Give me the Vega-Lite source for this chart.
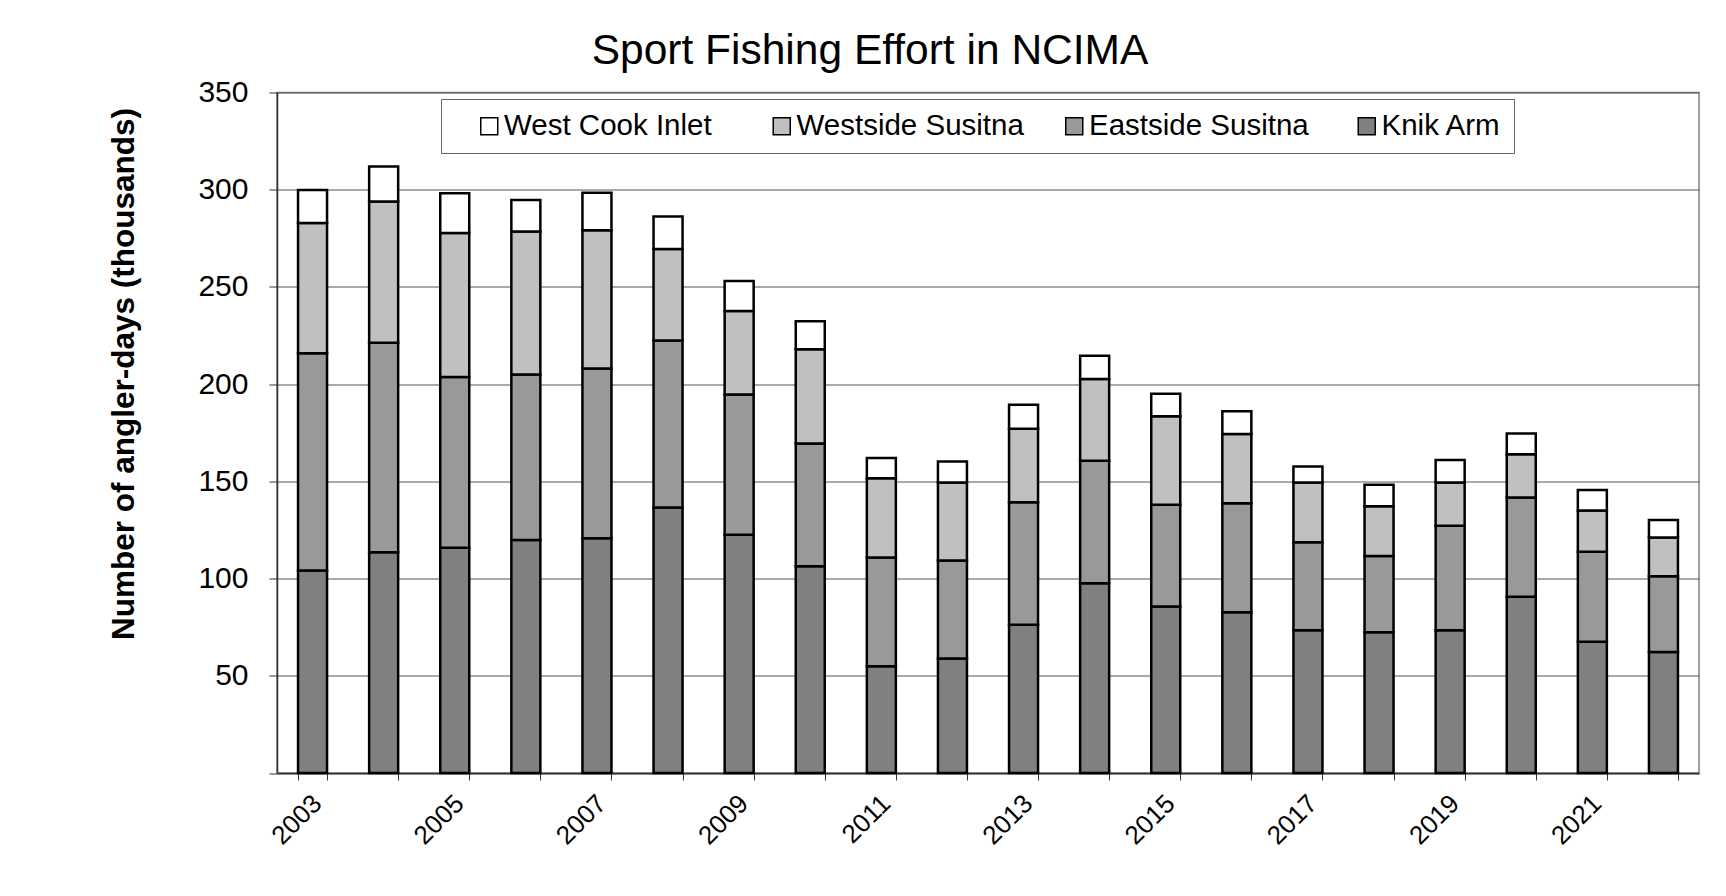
{
  "$schema": "https://vega.github.io/schema/vega-lite/v6.json",
  "autosize": "none",
  "width": 1422,
  "height": 680.5,
  "padding": {"left": 277, "top": 92.5, "right": 27, "bottom": 123},
  "background": "white",
  "config": {
    "font": "Liberation Sans",
    "view": {"stroke": "#808080", "strokeWidth": 1.5}
  },
  "title": {
    "text": "Sport Fishing Effort in NCIMA",
    "fontSize": 42.5,
    "fontWeight": "normal",
    "color": "black",
    "anchor": "middle",
    "dx": -118,
    "dy": 41,
    "offset": 12,
    "baseline": "alphabetic"
  },
  "data": {
    "values": [
      {"year": 2003, "Knik Arm": 104.1, "Eastside Susitna": 111.8, "Westside Susitna": 67.0, "West Cook Inlet": 16.9},
      {"year": 2004, "Knik Arm": 113.6, "Eastside Susitna": 107.7, "Westside Susitna": 72.6, "West Cook Inlet": 18.1},
      {"year": 2005, "Knik Arm": 115.9, "Eastside Susitna": 87.8, "Westside Susitna": 74.1, "West Cook Inlet": 20.4},
      {"year": 2006, "Knik Arm": 119.9, "Eastside Susitna": 85.0, "Westside Susitna": 73.6, "West Cook Inlet": 16.2},
      {"year": 2007, "Knik Arm": 120.7, "Eastside Susitna": 87.4, "Westside Susitna": 71.0, "West Cook Inlet": 19.3},
      {"year": 2008, "Knik Arm": 136.6, "Eastside Susitna": 85.8, "Westside Susitna": 47.1, "West Cook Inlet": 16.7},
      {"year": 2009, "Knik Arm": 122.6, "Eastside Susitna": 72.1, "Westside Susitna": 42.9, "West Cook Inlet": 15.4},
      {"year": 2010, "Knik Arm": 106.3, "Eastside Susitna": 63.2, "Westside Susitna": 48.4, "West Cook Inlet": 14.4},
      {"year": 2011, "Knik Arm": 54.9, "Eastside Susitna": 55.9, "Westside Susitna": 40.8, "West Cook Inlet": 10.4},
      {"year": 2012, "Knik Arm": 58.9, "Eastside Susitna": 50.4, "Westside Susitna": 40.1, "West Cook Inlet": 10.8},
      {"year": 2013, "Knik Arm": 76.2, "Eastside Susitna": 63.0, "Westside Susitna": 37.8, "West Cook Inlet": 12.4},
      {"year": 2014, "Knik Arm": 97.6, "Eastside Susitna": 63.0, "Westside Susitna": 42.0, "West Cook Inlet": 12.0},
      {"year": 2015, "Knik Arm": 85.6, "Eastside Susitna": 52.4, "Westside Susitna": 45.5, "West Cook Inlet": 11.6},
      {"year": 2016, "Knik Arm": 82.7, "Eastside Susitna": 56.1, "Westside Susitna": 35.6, "West Cook Inlet": 11.6},
      {"year": 2017, "Knik Arm": 73.4, "Eastside Susitna": 45.3, "Westside Susitna": 30.7, "West Cook Inlet": 8.3},
      {"year": 2018, "Knik Arm": 72.4, "Eastside Susitna": 39.2, "Westside Susitna": 25.6, "West Cook Inlet": 11.0},
      {"year": 2019, "Knik Arm": 73.4, "Eastside Susitna": 53.8, "Westside Susitna": 22.2, "West Cook Inlet": 11.6},
      {"year": 2020, "Knik Arm": 90.7, "Eastside Susitna": 51.0, "Westside Susitna": 22.3, "West Cook Inlet": 10.6},
      {"year": 2021, "Knik Arm": 67.5, "Eastside Susitna": 46.3, "Westside Susitna": 21.2, "West Cook Inlet": 10.5},
      {"year": 2022, "Knik Arm": 62.2, "Eastside Susitna": 39.0, "Westside Susitna": 19.9, "West Cook Inlet": 9.0}
    ]
  },
  "transform": [
    {"fold": ["Knik Arm", "Eastside Susitna", "Westside Susitna", "West Cook Inlet"], "as": ["region", "days"]},
    {"window": [{"op": "row_number", "as": "layer"}], "groupby": ["year"]}
  ],
  "mark": {"type": "bar", "stroke": "black", "strokeWidth": 2.5},
  "encoding": {
    "x": {
      "field": "year",
      "type": "ordinal",
      "scale": {"paddingInner": 0.592, "paddingOuter": 0.296},
      "axis": {
        "title": null,
        "tickBand": "extent",
        "labelAngle": -45,
        "labelAlign": "right",
        "labelBaseline": "middle",
        "labelFontSize": 26,
        "labelColor": "black",
        "labelExpr": "toNumber(datum.value) % 2 == 1 ? datum.label : ''",
        "labelOverlap": false,
        "labelOffset": 4.5,
        "labelPadding": 19,
        "tickSize": 7,
        "tickColor": "#333",
        "domainColor": "#333",
        "domainWidth": 1.5,
        "grid": false
      }
    },
    "y": {
      "field": "days",
      "type": "quantitative",
      "stack": "zero",
      "scale": {"domain": [0, 350], "nice": false},
      "axis": {
        "values": [0, 50, 100, 150, 200, 250, 300, 350],
        "title": "Number of angler-days (thousands)",
        "titleFontSize": 31.5,
        "titleFontWeight": "bold",
        "titleColor": "black",
        "titleAngle": -90,
        "titleAlign": "center",
        "titleBaseline": "bottom",
        "titleX": -137,
        "titleY": 281,
        "labelFontSize": 30,
        "labelColor": "black",
        "labelPadding": 21,
        "labelExpr": "datum.value == 0 ? '' : datum.label",
        "tickSize": 8,
        "tickColor": "#333",
        "domainColor": "#333",
        "domainWidth": 1.5,
        "grid": true,
        "gridColor": "#555",
        "gridWidth": 1
      }
    },
    "order": {"field": "layer", "type": "quantitative", "sort": "ascending"},
    "color": {
      "field": "region",
      "type": "nominal",
      "scale": {
        "domain": ["Knik Arm", "Eastside Susitna", "Westside Susitna", "West Cook Inlet"],
        "range": ["#808080", "#999999", "#c0c0c0", "#ffffff"]
      },
      "legend": {
        "values": ["West Cook Inlet", "Westside Susitna", "Eastside Susitna", "Knik Arm"],
        "orient": "none",
        "legendX": 164,
        "legendY": 6.5,
        "direction": "horizontal",
        "columns": 4,
        "title": " ",
        "titleOrient": "left",
        "titleFontSize": 10,
        "titlePadding": 21.5,
        "padding": 12,
        "strokeColor": "#666666",
        "fillColor": "white",
        "symbolType": "square",
        "symbolSize": 289,
        "symbolStrokeColor": "black",
        "symbolStrokeWidth": 1.5,
        "labelFontSize": 29.5,
        "labelColor": "black",
        "labelOffset": 0,
        "labelLimit": 400,
        "columnPadding": 35.5,
        "gridAlign": "all"
      }
    }
  }
}
